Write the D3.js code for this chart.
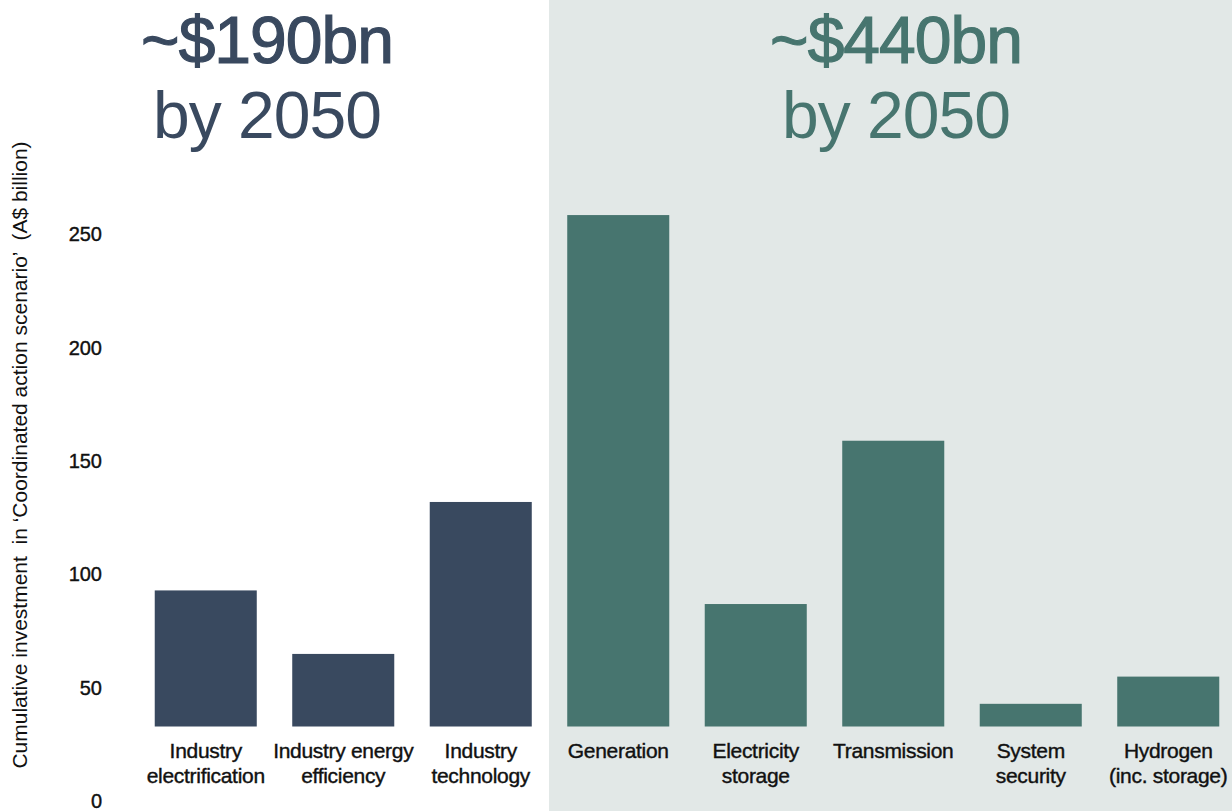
<!DOCTYPE html>
<meta charset="utf-8">
<style>
    html, body {
        margin: 0;
        padding: 0;
        background: #fff;
    }
    svg text {
        font-family: "Liberation Sans", Arial, sans-serif;
    }
    .tick text {
        font-size: 20px;
        fill: #111;
        stroke: #111;
        stroke-width: 0.4px;
    }
    .cat {
        font-size: 21px;
        fill: #111;
        stroke: #111;
        stroke-width: 0.4px;
        letter-spacing: -0.3px;
    }
</style>
<body>
<svg id="chart" width="1232" height="811"></svg>
<script src="https://cdn.jsdelivr.net/npm/d3@7"></script>
<script>
    // categories, two lines each
    var categories = ["Industry electrification", "Industry energy efficiency", "Industry technology",
        "Generation", "Electricity storage", "Transmission", "System security", "Hydrogen (inc. storage)"];
    var labelLines = [
        ["Industry", "electrification"],
        ["Industry energy", "efficiency"],
        ["Industry", "technology"],
        ["Generation"],
        ["Electricity", "storage"],
        ["Transmission"],
        ["System", "security"],
        ["Hydrogen", "(inc. storage)"]
    ];
    // which group each bar belongs to
    var groups = ["industry", "industry", "industry", "grid", "grid", "grid", "grid", "grid"];
    // cumulative investment, A$ billion
    var values = [60, 32, 99, 225.5, 54, 126, 10, 22];
    var yTicks = [0, 50, 100, 150, 200, 250];
    var headlines = {industry: ["~$190bn", "by 2050"], grid: ["~$440bn", "by 2050"]};

    var colors = {industry: "#39495f", grid: "#47756f"};
    var headX = {industry: 267, grid: 896};

    var svg = d3.select("#chart");
    var W = 1232, H = 811;

    var x = d3.scaleBand()
        .domain(categories)
        .range([137, 1237])
        .paddingInner(0.258)
        .paddingOuter(0.129);

    var y = d3.scaleLinear()
        .domain([0, 250])
        .range([726.5, 159.5]);

    // shaded panel behind the grid bars
    var firstGrid = categories[groups.indexOf("grid")];
    var panelX = x(firstGrid) - x.step() * x.paddingInner() / 2 - 0.5;
    svg.append("rect")
        .attr("x", panelX)
        .attr("y", 0)
        .attr("width", W - panelX)
        .attr("height", H)
        .attr("fill", "#e2e8e7");

    // bars
    svg.append("g").selectAll("rect")
        .data(categories)
        .enter().append("rect")
        .attr("x", function(d) { return x(d); })
        .attr("width", x.bandwidth())
        .attr("y", function(d, i) { return y(values[i]); })
        .attr("height", function(d, i) { return y(0) - y(values[i]); })
        .attr("fill", function(d, i) { return colors[groups[i]]; });

    // category labels
    var labels = svg.append("g").selectAll("text")
        .data(categories)
        .enter().append("text")
        .attr("class", "cat")
        .attr("text-anchor", "middle")
        .attr("x", function(d) { return x(d) + x.bandwidth() / 2; })
        .attr("y", 758);
    labels.each(function(d, i) {
        var t = d3.select(this);
        labelLines[i].forEach(function(line, j) {
            t.append("tspan")
                .attr("x", x(d) + x.bandwidth() / 2)
                .attr("dy", j === 0 ? 0 : 25)
                .text(line);
        });
    });

    // y axis (labels sit lower than the bar baseline, as in the original)
    var yAxis = d3.axisLeft(y).tickValues(yTicks).tickSize(0).tickPadding(0);
    var ag = svg.append("g")
        .attr("transform", "translate(102,74)")
        .call(yAxis);
    ag.select(".domain").remove();
    ag.selectAll(".tick text").attr("dy", "0.36em");

    svg.append("text")
        .attr("transform", "translate(27,455) rotate(-90)")
        .attr("text-anchor", "middle")
        .style("font-size", "21px")
        .style("white-space", "pre")
        .attr("fill", "#111")
        .text("Cumulative investment  in \u2018Coordinated action scenario\u2019  (A$ billion)");

    // headlines over each group
    ["industry", "grid"].forEach(function(g) {
        svg.append("text")
            .attr("x", headX[g])
            .attr("y", 63)
            .attr("text-anchor", "middle")
            .attr("fill", colors[g])
            .attr("stroke", colors[g])
            .attr("stroke-width", 1.2)
            .style("font-size", "66px")
            .attr("letter-spacing", "-1")
            .text(headlines[g][0]);
        svg.append("text")
            .attr("x", headX[g])
            .attr("y", 138)
            .attr("text-anchor", "middle")
            .attr("fill", colors[g])
            .style("font-size", "66px")
            .attr("letter-spacing", "-1")
            .text(headlines[g][1]);
    });
</script>
</body>
